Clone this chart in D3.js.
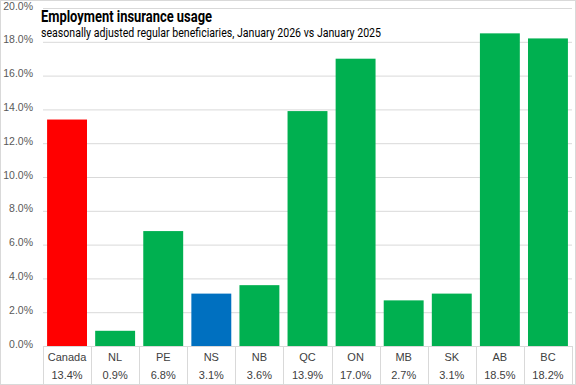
<!DOCTYPE html>
<html>
<head>
<meta charset="utf-8">
<script src="https://cdn.jsdelivr.net/npm/d3@7"></script>
<style>
  body { margin: 0; background: #fff; }
  svg { display: block; font-family: "Roboto", "Liberation Sans", sans-serif; }
</style>
</head>
<body>
<svg id="chart" width="576" height="385"></svg>
<script>
const regions = ["Canada", "NL", "PE", "NS", "NB", "QC", "ON", "MB", "SK", "AB", "BC"];
const change = [13.4, 0.9, 6.8, 3.1, 3.6, 13.9, 17.0, 2.7, 3.1, 18.5, 18.2];
const barColors = ["#ff0000", "#00b050", "#00b050", "#0070c0", "#00b050", "#00b050", "#00b050", "#00b050", "#00b050", "#00b050", "#00b050"];
const yTicks = [0, 2, 4, 6, 8, 10, 12, 14, 16, 18, 20];

const svg = d3.select("#chart");
const W = 576, H = 385;
const plotLeft = 43, plotRight = 572, plotTop = 8, plotBottom = 346;

// outer border
svg.append("rect")
  .attr("x", 0.5).attr("y", 0.5)
  .attr("width", W - 1).attr("height", H - 1)
  .attr("fill", "none").attr("stroke", "#d9d9d9");

const x = d3.scaleBand().domain(regions).range([plotLeft, plotRight]).paddingInner(0.17).paddingOuter(0.085);
const y = d3.scaleLinear().domain([0, 20]).range([plotBottom, plotTop]);

// gridlines + y labels
const yAxis = d3.axisLeft(y).tickValues(yTicks).tickSize(-(plotRight - plotLeft)).tickFormat(d => d.toFixed(1) + "%");
const gy = svg.append("g").attr("transform", `translate(${plotLeft},0)`).call(yAxis);
gy.select(".domain").remove();
gy.selectAll(".tick line").attr("stroke", "#d9d9d9");
gy.selectAll(".tick text")
  .attr("x", -10).attr("dy", "0.1em")
  .attr("fill", "#595959").attr("font-size", 10.5)
  .attr("font-family", "Liberation Sans, Arial, sans-serif");

// bars
svg.append("g")
  .selectAll("rect")
  .data(regions)
  .enter()
  .append("rect")
  .attr("x", d => x(d))
  .attr("y", (d, i) => y(change[i]))
  .attr("width", x.bandwidth())
  .attr("height", (d, i) => y(0) - y(change[i]))
  .attr("fill", (d, i) => barColors[i]);

// data table under the axis
const step = x.step();
const edges = regions.map(d => x(d) - x.paddingInner() * step / 2);
edges.push(plotRight);
const table = svg.append("g");
table.selectAll("line")
  .data(edges)
  .enter()
  .append("line")
  .attr("x1", d => Math.round(d) + 0.5).attr("x2", d => Math.round(d) + 0.5)
  .attr("y1", plotBottom).attr("y2", H)
  .attr("stroke", "#d9d9d9");

table.selectAll("text.cat")
  .data(regions)
  .enter()
  .append("text")
  .attr("class", "cat")
  .attr("x", d => x(d) + x.bandwidth() / 2)
  .attr("y", 361)
  .attr("text-anchor", "middle")
  .attr("font-size", 11)
  .attr("font-family", "Liberation Sans, Arial, sans-serif")
  .attr("fill", "#404040")
  .text(d => d);

table.selectAll("text.val")
  .data(regions)
  .enter()
  .append("text")
  .attr("class", "val")
  .attr("x", d => x(d) + x.bandwidth() / 2)
  .attr("y", 379)
  .attr("text-anchor", "middle")
  .attr("font-size", 11)
  .attr("font-family", "Liberation Sans, Arial, sans-serif")
  .attr("fill", "#404040")
  .text((d, i) => change[i].toFixed(1) + "%");

// titles (condensed face in the original, squeezed to its width)
svg.append("text")
  .attr("x", 41).attr("y", 22)
  .attr("font-size", 16).attr("font-weight", "bold")
  .attr("fill", "#000")
  .attr("textLength", 171).attr("lengthAdjust", "spacingAndGlyphs")
  .text("Employment insurance usage");
svg.append("text")
  .attr("x", 41).attr("y", 37)
  .attr("font-size", 13)
  .attr("fill", "#000")
  .attr("textLength", 340).attr("lengthAdjust", "spacingAndGlyphs")
  .text("seasonally adjusted regular beneficiaries, January 2026 vs January 2025");
</script>
</body>
</html>
